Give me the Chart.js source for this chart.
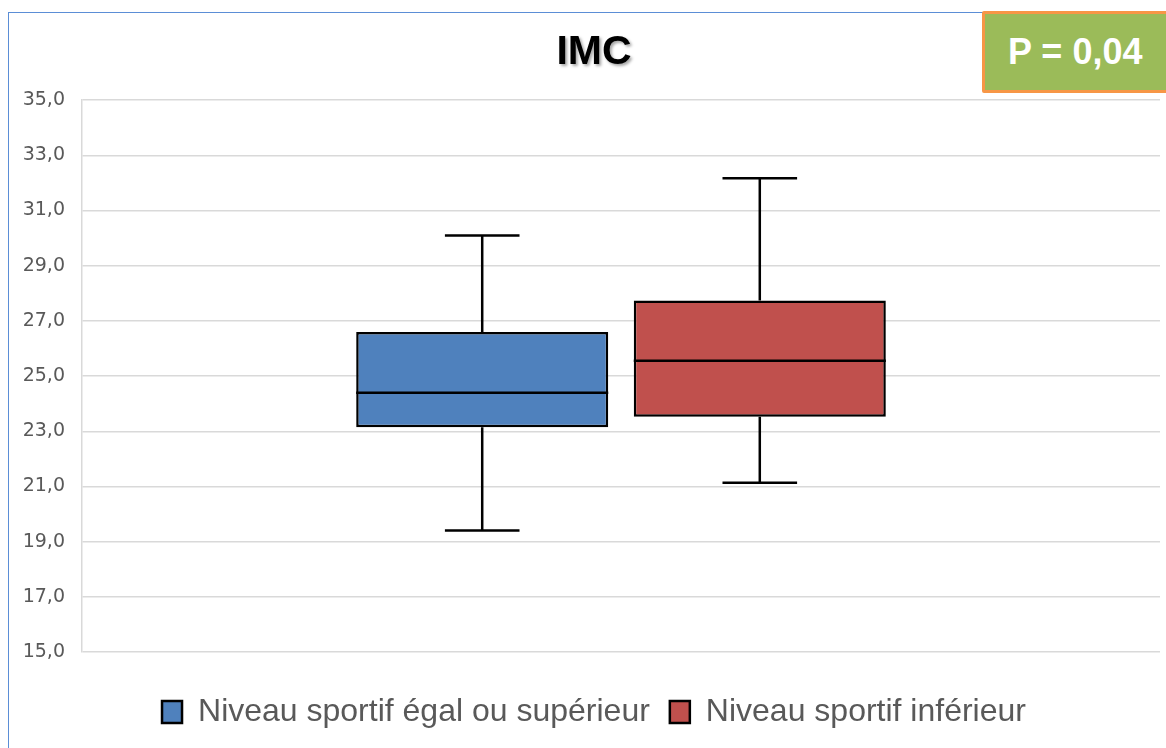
<!DOCTYPE html>
<html>
<head>
<meta charset="utf-8">
<script src="https://cdn.jsdelivr.net/npm/chart.js@4"></script>
<style>
  html, body { margin: 0; padding: 0; background: #fff; }
  #wrap { position: relative; width: 1166px; height: 748px; overflow: hidden; }
  #frame { position: absolute; left: 8px; top: 12px; width: 1200px; height: 800px;
           border-left: 1px solid #5b8ed6; border-top: 1px solid #5b8ed6; }
  #chart { position: absolute; left: 0; top: 0; }
  #pval { position: absolute; left: 982px; top: 11px; width: 200px; height: 76px;
          background: #9bbb59; border: 3px solid #f79646; border-radius: 2px;
          color: #fff; font: bold 36px "Liberation Sans", Arial, sans-serif;
          line-height: 76px; padding-left: 23px; box-sizing: content-box; }
</style>
</head>
<body>
<div id="wrap">
  <div id="frame"></div>
  <canvas id="chart" width="1166" height="748"></canvas>
  <div id="pval">P = 0,04</div>
</div>
<script>
const categories = ['IMC'];
const seriesNames = ['Niveau sportif égal ou supérieur', 'Niveau sportif inférieur'];
const seriesColors = ['#4f81bd', '#c0504d'];
// five-number summaries, one entry per series
const minValues = [19.4, 21.13];
const q1Values = [23.15, 23.53];
const medianValues = [24.4, 25.56];
const q3Values = [26.6, 27.74];
const maxValues = [30.1, 32.17];
const yTicks = [15, 17, 19, 21, 23, 25, 27, 29, 31, 33, 35];

const datasets = seriesNames.map((name, i) => ({
  label: name,
  data: [[q1Values[i], q3Values[i]]],
  backgroundColor: seriesColors[i],
  borderColor: '#000',
  borderWidth: 2.5,
  borderSkipped: false,
  categoryPercentage: 0.515,
  barPercentage: 0.908,
}));

// median line and whiskers on top of the Q1-Q3 bars
const whiskerPlugin = {
  id: 'whiskers',
  afterDatasetsDraw(chart) {
    const ctx = chart.ctx;
    const yScale = chart.scales.y;
    ctx.save();
    ctx.strokeStyle = '#000';
    ctx.lineWidth = 2.5;
    chart.data.datasets.forEach((ds, i) => {
      const meta = chart.getDatasetMeta(i);
      meta.data.forEach((bar) => {
        const x = bar.x;
        const half = bar.width / 2;
        const cap = bar.width * 0.148;
        const yMin = yScale.getPixelForValue(minValues[i]);
        const yQ1 = yScale.getPixelForValue(q1Values[i]);
        const yMed = yScale.getPixelForValue(medianValues[i]);
        const yQ3 = yScale.getPixelForValue(q3Values[i]);
        const yMax = yScale.getPixelForValue(maxValues[i]);
        ctx.beginPath();
        ctx.moveTo(x - half, yMed); ctx.lineTo(x + half, yMed);
        ctx.moveTo(x, yQ3); ctx.lineTo(x, yMax);
        ctx.moveTo(x - cap, yMax); ctx.lineTo(x + cap, yMax);
        ctx.moveTo(x, yQ1); ctx.lineTo(x, yMin);
        ctx.moveTo(x - cap, yMin); ctx.lineTo(x + cap, yMin);
        ctx.stroke();
      });
    });
    ctx.restore();
  }
};

// soft shadow under the title text
const titleShadowPlugin = {
  id: 'titleShadow',
  afterInit(chart) {
    const block = chart.titleBlock;
    if (!block) return;
    const origDraw = block.draw.bind(block);
    block.draw = (area) => {
      const ctx = chart.ctx;
      ctx.save();
      ctx.shadowColor = 'rgba(0,0,0,0.35)';
      ctx.shadowBlur = 3;
      ctx.shadowOffsetX = 2;
      ctx.shadowOffsetY = 2;
      origDraw(area);
      ctx.restore();
    };
  }
};

new Chart(document.getElementById('chart').getContext('2d'), {
  type: 'bar',
  data: { labels: categories, datasets: datasets },
  plugins: [whiskerPlugin, titleShadowPlugin],
  options: {
    responsive: false,
    animation: false,
    layout: { padding: { left: 22, right: 0, top: 0, bottom: 10 } },
    scales: {
      x: {
        display: true,
        ticks: { display: false },
        grid: { display: false },
        border: { display: false },
        afterFit: (scale) => { scale.height = 24; },
      },
      y: {
        min: 15,
        max: 35,
        afterBuildTicks: (scale) => { scale.ticks = yTicks.map((v) => ({ value: v })); },
        afterFit: (scale) => { scale.width = 60; },
        ticks: {
          color: '#595959',
          font: { family: 'DejaVu Sans', size: 19 },
          padding: 17,
          callback: (v) => v.toFixed(1).replace('.', ','),
        },
        grid: { color: '#d9d9d9', lineWidth: 1.5, drawTicks: false },
        border: { color: '#d9d9d9', width: 1.5 },
      },
      yRight: {
        position: 'right',
        display: true,
        ticks: { display: false },
        grid: { display: false },
        border: { display: false },
        afterFit: (scale) => { scale.width = 6; },
      },
    },
    plugins: {
      title: {
        display: true,
        text: 'IMC',
        color: '#000',
        font: { family: 'Liberation Sans', size: 41, weight: 'bold' },
        padding: { top: 28, bottom: 23 },
      },
      legend: {
        position: 'bottom',
        labels: {
          color: '#595959',
          font: { family: 'Liberation Sans', size: 32 },
          boxWidth: 20,
          boxHeight: 22,
          padding: 20,
        },
      },
      tooltip: { enabled: false },
    },
  },
});
</script>
</body>
</html>
